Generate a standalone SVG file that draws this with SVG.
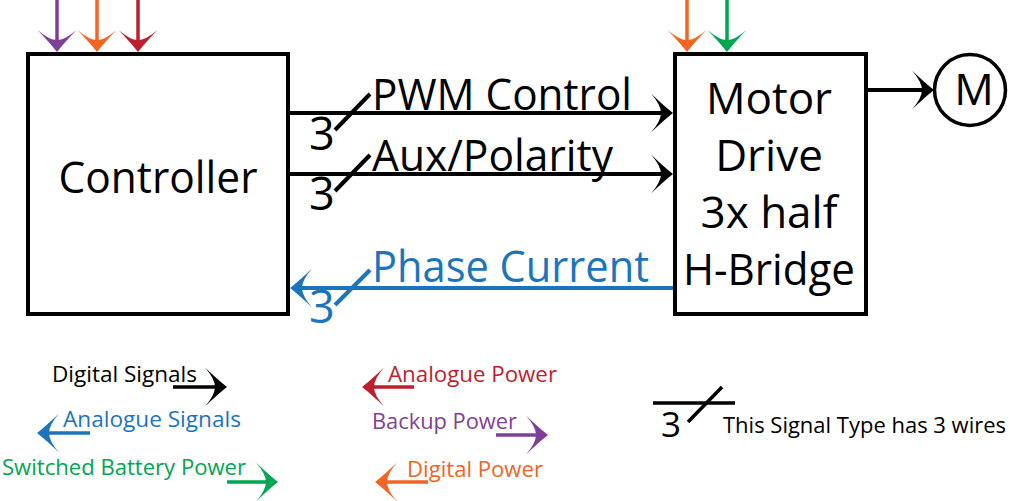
<svg xmlns="http://www.w3.org/2000/svg" width="1013" height="501" viewBox="0 0 1013 501">
<style>
text{font-family:"Open Sans","Liberation Sans",sans-serif}
.big{font-size:44px}
.num{font-size:45px}
.leg{font-size:21px}
.box{fill:#fff;stroke:#000;stroke-width:4}
.ln{fill:none;stroke-width:4}
.lg{fill:none;stroke-width:3.5}
.k{stroke:#000}.b{stroke:#1C75BC}.p{stroke:#7F3F98}.o{stroke:#F26522}.r{stroke:#BE1E2D}.g{stroke:#00A651}
</style>
<defs>
<path id="ah" d="M12,0 Q3,-7 -10,-19.5 Q0,-8 0,0 Q0,8 -10,19.5 Q3,7 12,0Z"/>
<marker id="mk" markerUnits="userSpaceOnUse" orient="auto" refX="0" refY="0" overflow="visible"><use href="#ah" fill="#000"/></marker>
<marker id="mb" markerUnits="userSpaceOnUse" orient="auto" refX="0" refY="0" overflow="visible"><use href="#ah" fill="#1C75BC"/></marker>
<marker id="mp" markerUnits="userSpaceOnUse" orient="auto" refX="0" refY="0" overflow="visible"><use href="#ah" fill="#7F3F98"/></marker>
<marker id="mo" markerUnits="userSpaceOnUse" orient="auto" refX="0" refY="0" overflow="visible"><use href="#ah" fill="#F26522"/></marker>
<marker id="mr" markerUnits="userSpaceOnUse" orient="auto" refX="0" refY="0" overflow="visible"><use href="#ah" fill="#BE1E2D"/></marker>
<marker id="mg" markerUnits="userSpaceOnUse" orient="auto" refX="0" refY="0" overflow="visible"><use href="#ah" fill="#00A651"/></marker>
</defs>

<g id="controller">
<rect class="box" x="28" y="54" width="260" height="260"/>
<text class="big" x="158" y="193" text-anchor="middle" textLength="199" lengthAdjust="spacingAndGlyphs">Controller</text>
</g>

<g id="motor-drive">
<rect class="box" x="675" y="54" width="191" height="260"/>
<text class="big" x="769" y="114" text-anchor="middle">Motor</text>
<text class="big" x="769" y="171" text-anchor="middle">Drive</text>
<text class="big" x="769" y="228" text-anchor="middle">3x half</text>
<text class="big" x="769" y="285" text-anchor="middle" textLength="172" lengthAdjust="spacingAndGlyphs">H-Bridge</text>
</g>

<g id="motor">
<circle cx="970" cy="90" r="35.5" fill="#fff" stroke="#000" stroke-width="3.5"/>
<text class="big" x="974" y="105" text-anchor="middle">M</text>
</g>

<g id="connectors">
<path class="ln k" d="M290,113 H661" marker-end="url(#mk)"/>
<path class="ln k" d="M290,174 H661" marker-end="url(#mk)"/>
<path class="ln b" d="M673,288 H302" marker-end="url(#mb)"/>
<path class="ln k" d="M868,90 H922" marker-end="url(#mk)"/>
<path class="lg p" d="M57,0 V40" marker-end="url(#mp)"/>
<path class="lg o" d="M97,0 V40" marker-end="url(#mo)"/>
<path class="lg r" d="M138,0 V40" marker-end="url(#mr)"/>
<path class="lg o" d="M687,0 V40" marker-end="url(#mo)"/>
<path class="lg g" d="M727,0 V40" marker-end="url(#mg)"/>
<path class="ln k" d="M335,130 L370,94"/>
<path class="ln k" d="M335,191 L370,155"/>
<path class="ln b" d="M335,305 L370,270"/>
<text class="num" x="309" y="150">3</text>
<text class="num" x="309" y="210">3</text>
<text class="num" x="309" y="323" fill="#1C75BC">3</text>
<text class="big" x="372" y="110" textLength="260" lengthAdjust="spacingAndGlyphs">PWM Control</text>
<text class="big" x="372" y="171" textLength="241" lengthAdjust="spacingAndGlyphs">Aux/Polarity</text>
<text class="big" x="372" y="282" fill="#1C75BC" textLength="277" lengthAdjust="spacingAndGlyphs">Phase Current</text>
</g>

<g id="legend">
<text class="leg" x="52" y="382" textLength="145" lengthAdjust="spacingAndGlyphs">Digital Signals</text>
<path class="lg k" d="M173,387 H215" marker-end="url(#mk)"/>
<text class="leg" x="63" y="427" fill="#1C75BC" textLength="178" lengthAdjust="spacingAndGlyphs">Analogue Signals</text>
<path class="lg b" d="M90,433 H49" marker-end="url(#mb)"/>
<text class="leg" x="2" y="475" fill="#00A651" textLength="244" lengthAdjust="spacingAndGlyphs">Switched Battery Power</text>
<path class="lg g" d="M227,482 H266" marker-end="url(#mg)"/>
<text class="leg" x="388" y="382" fill="#BE1E2D" textLength="169" lengthAdjust="spacingAndGlyphs">Analogue Power</text>
<path class="lg r" d="M414,387 H374" marker-end="url(#mr)"/>
<text class="leg" x="372" y="429" fill="#7F3F98" textLength="145" lengthAdjust="spacingAndGlyphs">Backup Power</text>
<path class="lg p" d="M496,435 H536" marker-end="url(#mp)"/>
<text class="leg" x="407" y="477" fill="#F26522" textLength="136" lengthAdjust="spacingAndGlyphs">Digital Power</text>
<path class="lg o" d="M428,482 H387" marker-end="url(#mo)"/>
<path class="lg k" d="M653,403 H735"/>
<path class="lg k" d="M688,422 L722,387"/>
<text x="661" y="437" font-size="35">3</text>
<text class="leg" x="723" y="433" textLength="283" lengthAdjust="spacingAndGlyphs">This Signal Type has 3 wires</text>
</g>
</svg>
